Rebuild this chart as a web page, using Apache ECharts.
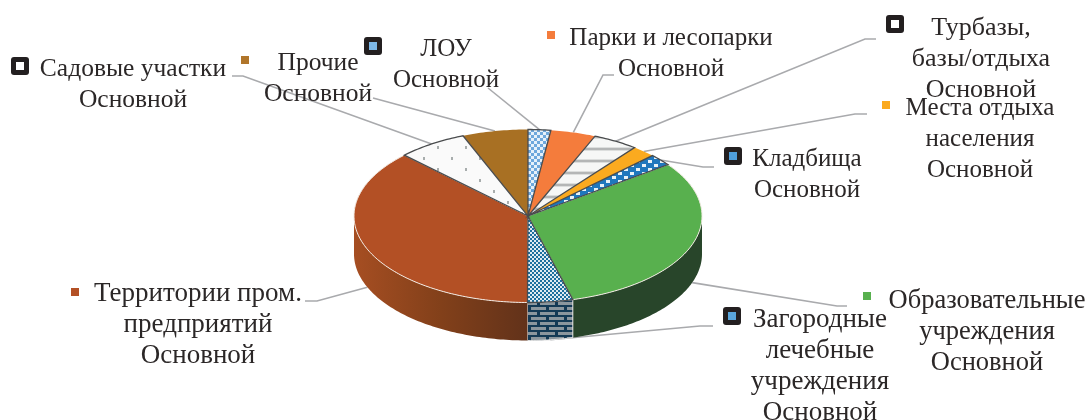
<!DOCTYPE html>
<html><head><meta charset="utf-8">
<style>html,body{margin:0;padding:0;background:#fff}#c{width:1089px;height:420px}</style>
<script src="https://cdn.jsdelivr.net/npm/echarts@6/dist/echarts.min.js"></script>
</head><body><div id="c"></div>
<script>
const categories = ['ЛОУ','Парки и лесопарки','Турбазы,\nбазы/отдыха','Места отдыха\nнаселения','Кладбища','Образовательные\nучреждения','Загородные\nлечебные\nучреждения','Территории пром.\nпредприятий','Садовые участки','Прочие'];
const seriesName = 'Основной';
const values = [2.1,4.2,4.2,2.2,2.2,31.0,4.2,37.4,6.5,6.1];

// geometry of the projected pie
const pie = {cx:528, cy:216, rx:174, ry:86.5, depth:38};
const FONT = '"Liberation Serif","Times New Roman",serif';
const LH = 31;

function pat(w,h,draw){const c=document.createElement('canvas');c.width=w;c.height=h;draw(c.getContext('2d'));return {type:'pattern',image:c,repeat:'repeat'};}
const fills = {
  lou: pat(6,6,g=>{g.fillStyle='#e6f1fa';g.fillRect(0,0,6,6);g.fillStyle='#6ea8dc';g.fillRect(0,0,3,3);g.fillRect(3,3,3,3);}),
  turb: pat(24,12,g=>{g.fillStyle='#f6f7f6';g.fillRect(0,0,24,12);g.fillStyle='#b4b6b6';g.fillRect(0,4,24,2);g.fillStyle='#dcdedd';g.fillRect(0,3,24,1);g.fillRect(0,6,24,1);}),
  klad: pat(12,8,g=>{g.fillStyle='#1f77bd';g.fillRect(0,0,12,8);g.fillStyle='#e9f2f8';g.fillRect(0,0,4,3);g.fillRect(6,4,4,3);}),
  sad: pat(28,22,g=>{g.fillStyle='#fafafa';g.fillRect(0,0,28,22);g.fillStyle='#a8adad';g.fillRect(3,3,2,3);g.fillRect(17,14,2,3);}),
  zag: pat(4,4,g=>{g.fillStyle='#dfeaf1';g.fillRect(0,0,4,4);g.fillStyle='#1c6f9e';g.fillRect(0,0,2,2);g.fillRect(2,2,2,2);}),
  zagWall: pat(18,10,g=>{g.fillStyle='#143a55';g.fillRect(0,0,18,10);g.fillStyle='#8b969d';g.fillRect(0,2,15,3);g.fillRect(9,7,15,3);g.fillRect(-9,7,15,3);})
};
const terrWall = {type:'linear',x:0,y:0,x2:1,y2:0,colorStops:[{offset:0,color:'#a64e22'},{offset:.5,color:'#82401a'},{offset:1,color:'#62321a'}]};
const styles = [
  {top:fills.lou, outline:true},
  {top:'#f47c3c'},
  {top:fills.turb, outline:true},
  {top:'#fbaa1f'},
  {top:fills.klad, outline:true},
  {top:'#58b04e', wall:'#28452a', rim:true},
  {top:fills.zag, wall:fills.zagWall, outline:true},
  {top:'#b35025', wall:terrWall, rim:true},
  {top:fills.sad, outline:true},
  {top:'#a87023'}
];
// label block: centre x, y of first line centre, font size; leader elbow points; legend key box
const layout = [
  {x:446,y:48, fs:25,  line:[[488,88]], key:[364,37,18,18,'#7db8e8']},
  {x:671,y:37, fs:25,  line:[[603,75],[614,75]], key:[547,31,8,8,'#f47c3c',1]},
  {x:981,y:27, fs:26,  line:[[865,39],[876,39]], key:[886,15,18,18,'#ffffff']},
  {x:980,y:107,fs:25,  line:[[855,114],[867,114]], key:[882,101,8,8,'#fbaa1f',1]},
  {x:807,y:158,fs:25,  line:[[703,167],[714,167]], key:[724,147,18,18,'#4f9fdc']},
  {x:987,y:300,fs:26.5,line:[[837,306],[847,306]], key:[863,292,8,8,'#58b04e',1]},
  {x:820,y:319,fs:27,  line:[[700,326],[713,326]], key:[723,307,18,18,'#5aa6dc']},
  {x:198,y:293,fs:27,  line:[[317,301],[305,301]], key:[71,288,8,8,'#b35025',1]},
  {x:133,y:68, fs:25.5,line:[[243,76],[232,76]], key:[11,57,18,18,'#ffffff']},
  {x:318,y:62, fs:25.5,line:[[373,98]], key:[241,56,8,8,'#b0752a',1]}
];

const total = values.reduce((a,b)=>a+b,0);
const starts = []; values.reduce((acc,v,i)=>(starts[i]=acc,acc+v),0);
const toDeg = v => v/total*360;
function pt(deg,dy){const t=deg*Math.PI/180;return [pie.cx+pie.rx*Math.sin(t),pie.cy-pie.ry*Math.cos(t)+(dy||0)];}
function arc(a,b,dy){const n=Math.max(2,Math.ceil(Math.abs(b-a)));const r=[];for(let k=0;k<=n;k++)r.push(pt(a+(b-a)*k/n,dy));return r;}

function renderItem(params, api){
  const i = params.dataIndex;
  const a0 = toDeg(starts[i]), a1 = a0+toDeg(api.value(0));
  const st = styles[i], lay = layout[i];
  const kids = [];
  const mid = (a0+a1)/2;
  const front = mid>90 && mid<270;
  // leader
  const pts = [pt(mid,front?pie.depth:0)].concat(lay.line);
  kids.push({type:'polyline',z2:1,shape:{points:pts},style:{fill:null,stroke:'#a9aaad',lineWidth:1.6}});
  // wall
  const w0=Math.max(a0,90), w1=Math.min(a1,270);
  if(w1>w0){
    const up=arc(w0,w1,0), dn=arc(w1,w0,pie.depth);
    kids.push({type:'polygon',z2:2,shape:{points:up.concat(dn)},style:{fill:st.wall||'#555',stroke:st.outline?'#e0e0e0':null,lineWidth:1}});
  }
  // top
  const poly=[[pie.cx,pie.cy]].concat(arc(a0,a1,0));
  kids.push({type:'polygon',z2:st.outline?4:3,shape:{points:poly},
    style:{fill:st.top,stroke:st.outline?'#4a4c4e':(st.rim?'#f3ebe4':null),lineWidth:st.outline?1.3:1}});
  // label
  kids.push({type:'text',z2:6,style:{text:categories[i]+'\n'+seriesName,x:lay.x,y:lay.y+1-LH/2,align:'center',verticalAlign:'top',
    fontFamily:FONT,fontSize:lay.fs,lineHeight:LH,fill:'#2b2727'}});
  // legend key
  const k=lay.key;
  if(k[5]){
    kids.push({type:'rect',z2:6,shape:{x:k[0],y:k[1],width:k[2],height:k[3]},style:{fill:k[4]}});
  }else{
    kids.push({type:'rect',z2:6,shape:{x:k[0],y:k[1],width:k[2],height:k[3],r:3},style:{fill:'#231f20'}});
    kids.push({type:'rect',z2:7,shape:{x:k[0]+5,y:k[1]+5,width:k[2]-10,height:k[3]-10},style:{fill:k[4]}});
  }
  return {type:'group',children:kids};
}

const chart = echarts.init(document.getElementById('c'),null,{renderer:'canvas'});
chart.setOption({
  animation:false,
  backgroundColor:'#ffffff',
  series:[{type:'custom',coordinateSystem:'none',name:seriesName,silent:true,renderItem,
    data:values.map(v=>[v]),encode:{value:0}}]
});
</script></body></html>
